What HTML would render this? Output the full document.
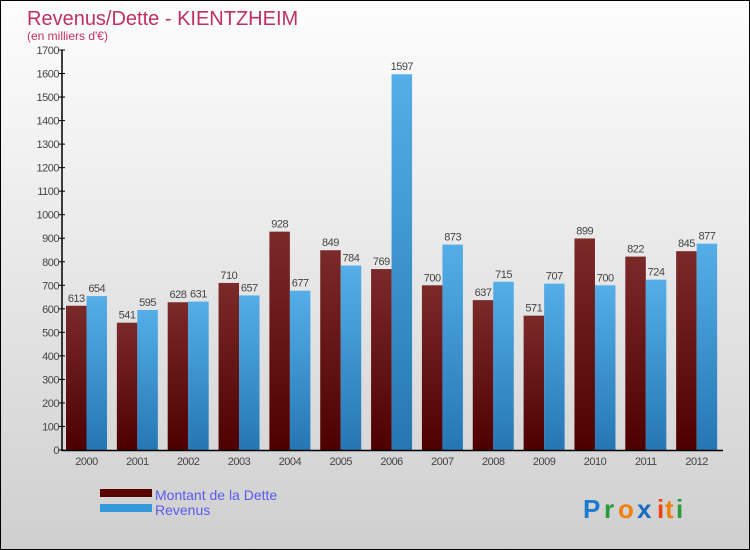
<!DOCTYPE html>
<html><head><meta charset="utf-8"><style>
body{margin:0}
#c{position:relative;width:748px;height:548px;border:1px solid #000;background:linear-gradient(#fdfdfd,#f0f0f0 30%,#cfcfcf);font-family:"Liberation Sans",sans-serif;overflow:hidden}
</style></head><body>
<div id="c">
<svg id="s" width="748" height="548" xmlns="http://www.w3.org/2000/svg">
<defs>
<linearGradient id="gd" x1="0" y1="0" x2="0" y2="1"><stop offset="0" stop-color="#7b2a2a"/><stop offset="1" stop-color="#4e0000"/></linearGradient>
<linearGradient id="gr" x1="0" y1="0" x2="0" y2="1"><stop offset="0" stop-color="#55aee8"/><stop offset="1" stop-color="#2577b4"/></linearGradient>
</defs>
<text x="26" y="24" font-size="20" fill="#c0305e">Revenus/Dette - KIENTZHEIM</text>
<text x="26" y="39" font-size="12" fill="#c0305e">(en milliers d'€)</text>
<g id="plot"></g>
<rect x="99" y="488" width="52" height="8" fill="#5a0000"/>
<text x="154" y="499" font-size="14" fill="#5a5af0">Montant de la Dette</text>
<rect x="99" y="503" width="52" height="8" fill="#3398dc"/>
<text x="154" y="514" font-size="14" fill="#5a5af0">Revenus</text>
<g font-size="26" font-weight="bold">
<text x="582" y="517" fill="#1a7ad0">P</text><text x="603" y="517" fill="#2a9a3a">r</text><text x="617" y="517" fill="#f08010">o</text><text x="636" y="517" fill="#1a6ac0">x</text><text x="656" y="517" fill="#f04010">i</text><text x="664" y="517" fill="#f08010">t</text><text x="675" y="517" fill="#2a9a3a">i</text>
</g>
</svg>
</div>
<script>
const years=["2000","2001","2002","2003","2004","2005","2006","2007","2008","2009","2010","2011","2012"];
const dette=[613,541,628,710,928,849,769,700,637,571,899,822,845];
const revenus=[654,595,631,657,677,784,1597,873,715,707,700,724,877];
const yTicks=[0,100,200,300,400,500,600,700,800,900,1000,1100,1200,1300,1400,1500,1600,1700];
const NS="http://www.w3.org/2000/svg";
const g=document.getElementById('plot');
const x0=61,x1=722,y0=449,ymax=1700,ph=400;
const y=v=>y0-v/ymax*ph;
const gw=(x1-x0)/years.length;
function el(t,a,txt){const e=document.createElementNS(NS,t);for(const k in a)e.setAttribute(k,a[k]);if(txt!=null)e.textContent=txt;g.appendChild(e);return e;}
yTicks.forEach(v=>{
 const t=el('line',{x1:x0-3,x2:x0+3,y1:y(v),y2:y(v),stroke:'#000'});
 
 
 const l=el('text',{x:x0-3,y:y(v)+4,'font-size':11,fill:'#444','text-anchor':'end','letter-spacing':'-0.5'},v);
 
 
});
years.forEach((yr,i)=>{
 const gx=x0+i*gw+4,bw=20.5;
 const b1=el('rect',{x:gx,y:y(dette[i]),width:bw,height:y0-y(dette[i]),fill:'url(#gd)'});
 
 
 const b2=el('rect',{x:gx+bw,y:y(revenus[i]),width:bw,height:y0-y(revenus[i]),fill:'url(#gr)'});
 
 
 const v1=el('text',{x:gx+bw/2,y:y(dette[i])-4,'font-size':11,fill:'#444','text-anchor':'middle','letter-spacing':'-0.5'},dette[i]);
 
 
 const v2=el('text',{x:gx+bw*1.5,y:y(revenus[i])-4,'font-size':11,fill:'#444','text-anchor':'middle','letter-spacing':'-0.5'},revenus[i]);
 
 
 const xl=el('text',{x:gx+bw,y:y0+15,'font-size':11,fill:'#444','text-anchor':'middle','letter-spacing':'-0.5'},yr);
 
 
});
const ya=el('line',{x1:x0,x2:x0,y1:y(ymax),y2:y0+1,stroke:'#000','stroke-width':1.5});


const xa=el('line',{x1:x0,x2:x1,y1:y0+0.5,y2:y0+0.5,stroke:'#000','stroke-width':1.5});


</script>
</body></html>
